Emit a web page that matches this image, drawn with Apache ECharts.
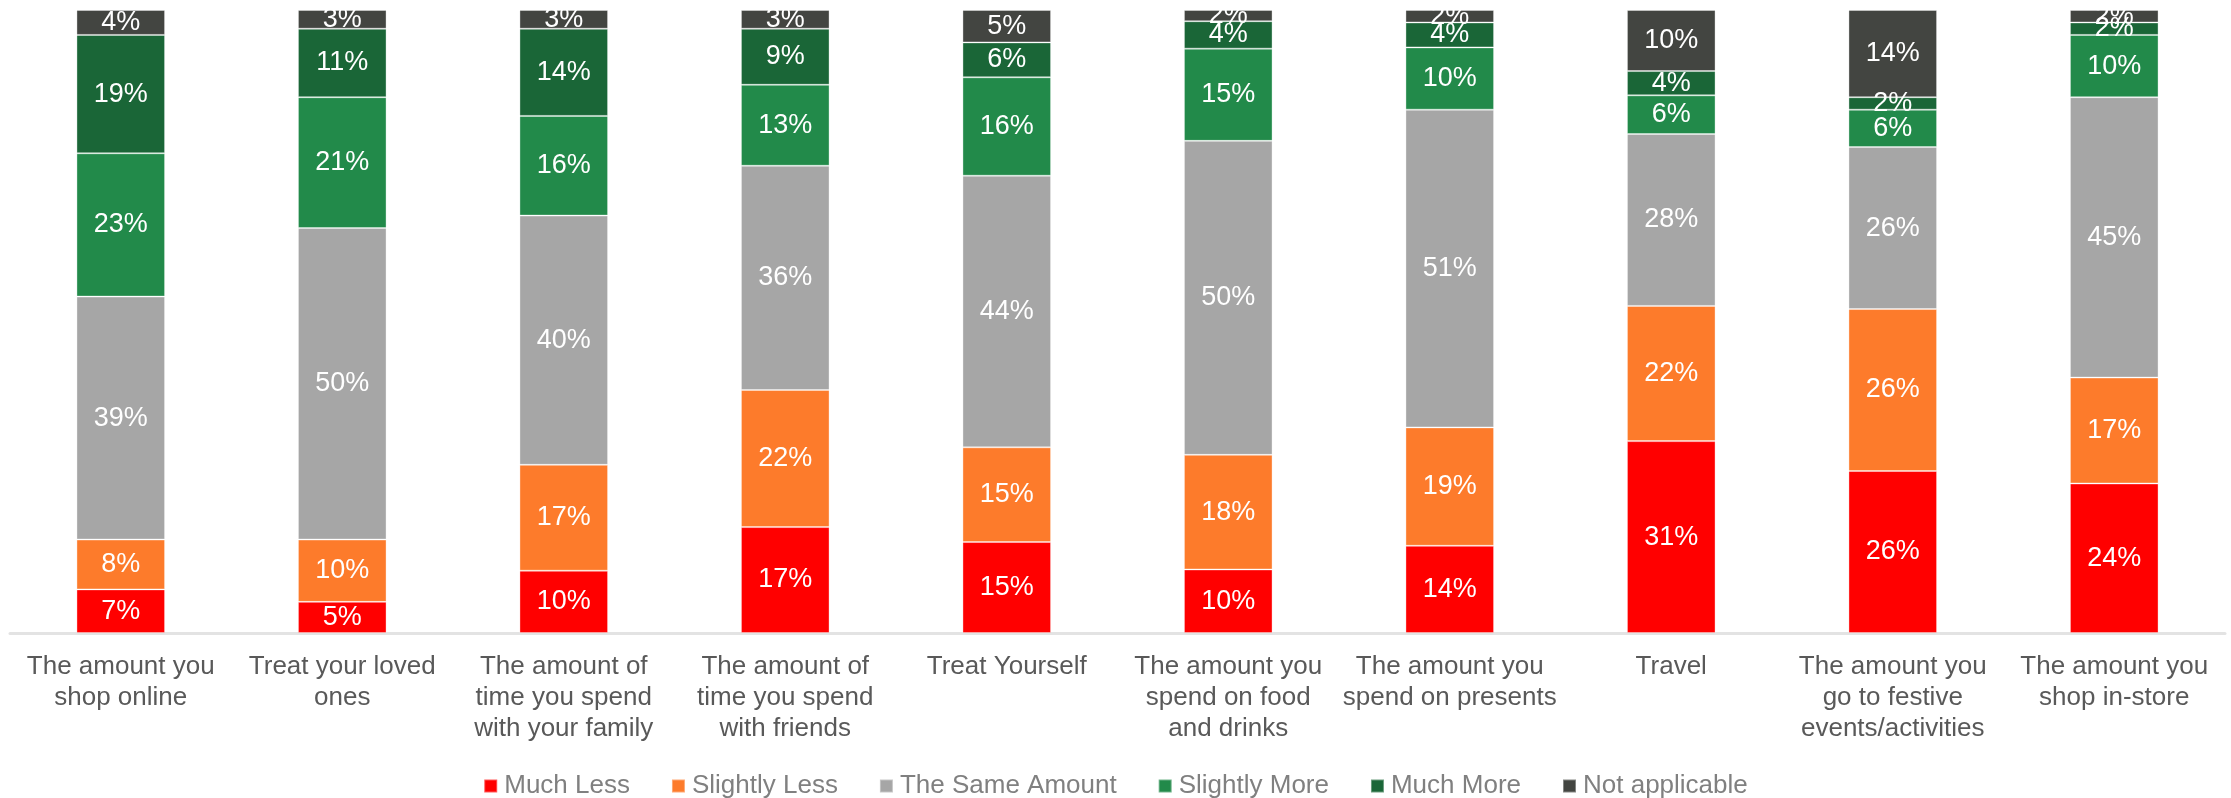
<!DOCTYPE html>
<html>
<head>
<meta charset="utf-8">
<script src="https://cdn.jsdelivr.net/npm/echarts@6/dist/echarts.min.js"></script>
<style>
  html, body { margin: 0; padding: 0; background: #fff; }
  #chart { width: 2231px; height: 798px; }
</style>
</head>
<body>
<div id="chart"></div>
<script>
// categories
var categories = [
  'The amount you\nshop online',
  'Treat your loved\nones',
  'The amount of\ntime you spend\nwith your family',
  'The amount of\ntime you spend\nwith friends',
  'Treat Yourself',
  'The amount you\nspend on food\nand drinks',
  'The amount you\nspend on presents',
  'Travel',
  'The amount you\ngo to festive\nevents/activities',
  'The amount you\nshop in-store'
];
// series values (%)
var muchLess     = [7, 5, 10, 17, 14.6, 10.2, 14, 30.8, 26, 24];
var slightlyLess = [8, 10, 17, 22, 15.2, 18.4, 19, 21.7, 26, 17];
var sameAmount   = [39, 50, 40, 36, 43.6, 50.4, 51, 27.6, 26, 45];
var slightlyMore = [23, 21, 16, 13, 15.8, 14.8, 10, 6.2, 6, 10];
var muchMore     = [19, 11, 14, 9, 5.6, 4.4, 4, 3.9, 2, 2];
var notApplic    = [4, 3, 3, 3, 5.2, 1.8, 2, 9.8, 14, 2];

var seriesNames = ['Much Less', 'Slightly Less', 'The Same Amount', 'Slightly More', 'Much More', 'Not applicable'];
var seriesData = [muchLess, slightlyLess, sameAmount, slightlyMore, muchMore, notApplic];
var colors = ['#FF0000', '#FD7B2B', '#A6A6A6', '#228A4A', '#1A6637', '#434541'];

var chartDom = document.getElementById('chart');
var myChart = echarts.init(chartDom);

var series = [];
for (var i = 0; i < seriesNames.length; i++) {
  series.push({
    name: seriesNames[i],
    type: 'bar',
    stack: 'total',
    barWidth: '40%',
    itemStyle: {
      color: colors[i],
      borderColor: 'rgba(255,255,255,0.35)',
      borderWidth: 1
    },
    label: {
      show: true,
      position: 'inside',
      color: '#fff',
      fontSize: 27,
      fontFamily: 'Liberation Sans, Arial, sans-serif',
      formatter: function (p) { return Math.round(p.value) + '%'; }
    },
    data: seriesData[i]
  });
}

var option = {
  animation: false,
  color: colors,
  grid: { left: 10, right: 6, top: 10, bottom: 165 },
  legend: {
    data: seriesNames,
    left: 'center',
    top: 768,
    icon: 'rect',
    itemWidth: 13,
    itemHeight: 13,
    itemGap: 41,
    textStyle: {
      color: '#808080',
      fontSize: 26,
      fontFamily: 'Liberation Sans, Arial, sans-serif',
      padding: [0, 0, 0, 2]
    }
  },
  xAxis: {
    type: 'category',
    data: categories,
    axisLine: { lineStyle: { color: '#E3E3E3', width: 3 } },
    axisTick: { show: false },
    axisLabel: {
      interval: 0,
      margin: 18,
      color: '#595959',
      fontSize: 26,
      lineHeight: 31,
      fontFamily: 'Liberation Sans, Arial, sans-serif'
    }
  },
  yAxis: {
    type: 'value',
    min: 0,
    max: 100,
    show: false,
    splitLine: { show: false }
  },
  series: series
};
myChart.setOption(option);
</script>
</body>
</html>
